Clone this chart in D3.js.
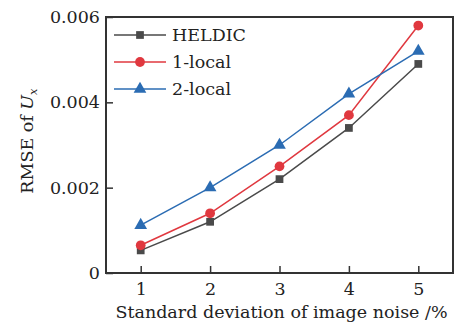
<!DOCTYPE html>
<html>
<head>
<meta charset="utf-8">
<script src="https://cdn.jsdelivr.net/npm/d3@7"></script>
<style>
  body { margin: 0; background: #fff; }
  text { font-family: "DejaVu Serif", "Liberation Serif", serif; fill: #222; }
</style>
</head>
<body>
<script>
var width = 455,
    height = 325;

// data
var noise = [1, 2, 3, 4, 5];
var heldic = [0.00053, 0.0012, 0.0022, 0.0034, 0.0049];
var local1 = [0.00065, 0.0014, 0.0025, 0.0037, 0.0058];
var local2 = [0.00112, 0.0020, 0.0030, 0.0042, 0.0052];
var xTicks = [1, 2, 3, 4, 5];
var yTicks = [0, 0.002, 0.004, 0.006];
var yTickLabels = ["0", "0.002", "0.004", "0.006"];

var series = [
    { name: "HELDIC", values: heldic, color: "#4a4a4a", symbol: d3.symbolSquare, size: 60 },
    { name: "1-local", values: local1, color: "#e0383f", symbol: d3.symbolCircle, size: 75 },
    { name: "2-local", values: local2, color: "#2b6cb3", symbol: d3.symbolTriangle, size: 70 }
];

var margin = { top: 17, right: 2, bottom: 52, left: 106 };
var fs = "17.5px";

const svg = d3.select("body")
    .append("svg")
    .attr("width", width)
    .attr("height", height);

var x = d3.scaleLinear()
    .domain([0.5, 5.5])
    .range([margin.left, width - margin.right]);

var y = d3.scaleLinear()
    .domain([0, 0.006])
    .range([height - margin.bottom, margin.top]);

// axes, ticks pointing inward
var xAxis = svg.append("g")
    .attr("transform", "translate(0," + (height - margin.bottom) + ")")
    .call(d3.axisBottom(x).tickValues(xTicks).tickSizeInner(-7).tickSizeOuter(0).tickPadding(10).tickFormat(d3.format("d")));

var yAxis = svg.append("g")
    .attr("transform", "translate(" + margin.left + ",0)")
    .call(d3.axisLeft(y).tickValues(yTicks).tickSizeInner(-7).tickSizeOuter(0).tickPadding(6)
        .tickFormat(function (d, i) { return yTickLabels[i]; }));

[xAxis, yAxis].forEach(function (g) {
    g.select(".domain").remove();
    g.selectAll(".tick line").attr("stroke", "#333").attr("stroke-width", 1.5);
    g.selectAll(".tick text").style("font-size", fs).attr("fill", "#222");
});

// frame
svg.append("rect")
    .attr("x", margin.left)
    .attr("y", margin.top)
    .attr("width", width - margin.left - margin.right)
    .attr("height", height - margin.top - margin.bottom)
    .attr("fill", "none")
    .attr("stroke", "#333")
    .attr("stroke-width", 2);

var line = d3.line()
    .x(function (d, i) { return x(noise[i]); })
    .y(function (d) { return y(d); });

series.forEach(function (s) {
    svg.append("path")
        .attr("d", line(s.values))
        .attr("fill", "none")
        .attr("stroke", s.color)
        .attr("stroke-width", 1.5);

    svg.selectAll(null)
        .data(s.values)
        .enter().append("path")
        .attr("transform", function (d, i) { return "translate(" + x(noise[i]) + "," + y(d) + ")"; })
        .attr("d", d3.symbol().type(s.symbol).size(s.size))
        .attr("fill", s.color);
});

// legend
var legend = svg.append("g").attr("transform", "translate(114,35)");
series.forEach(function (s, i) {
    var row = legend.append("g").attr("transform", "translate(0," + (i * 27) + ")");
    row.append("line")
        .attr("x1", 0).attr("x2", 52)
        .attr("stroke", s.color).attr("stroke-width", 1.5);
    row.append("path")
        .attr("transform", "translate(26,0)")
        .attr("d", d3.symbol().type(s.symbol).size(s.size))
        .attr("fill", s.color);
    row.append("text")
        .attr("x", 58).attr("dy", "0.35em")
        .style("font-size", fs)
        .text(s.name);
});

// axis titles
svg.append("text")
    .attr("x", (margin.left + width - margin.right) / 2 + 2)
    .attr("y", height - 7)
    .attr("text-anchor", "middle")
    .style("font-size", fs)
    .text("Standard deviation of image noise /%");

var yl = svg.append("text")
    .attr("transform", "translate(33," + ((margin.top + height - margin.bottom) / 2 - 4) + ") rotate(-90)")
    .attr("text-anchor", "middle")
    .style("font-size", fs);
yl.append("tspan").text("RMSE of ");
yl.append("tspan").style("font-style", "italic").text("U");
yl.append("tspan").style("font-style", "italic").style("font-size", "11.5px").attr("dy", 4).text("x");
</script>
</body>
</html>
